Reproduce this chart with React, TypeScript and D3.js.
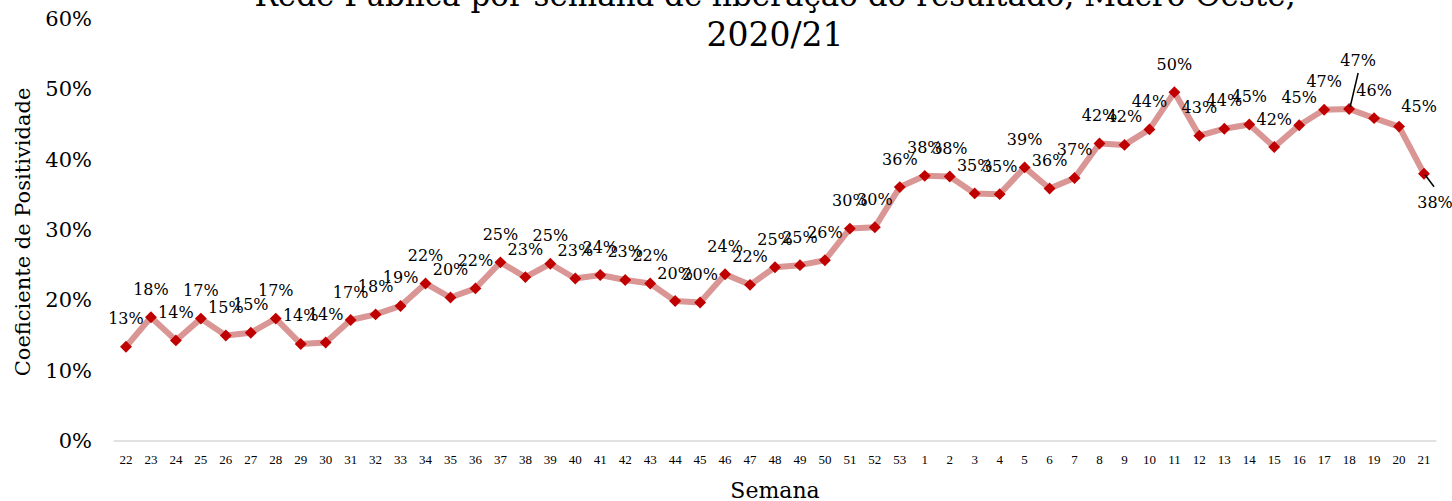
import React from "react";
import * as d3 from "d3";

// weeks 22..53 of 2020, then 1..21 of 2021
const weeks = [
  "22", "23", "24", "25", "26", "27", "28", "29", "30", "31", "32", "33", "34", "35", "36", "37",
  "38", "39", "40", "41", "42", "43", "44", "45", "46", "47", "48", "49", "50", "51", "52", "53",
  "1", "2", "3", "4", "5", "6", "7", "8", "9", "10", "11", "12", "13", "14", "15", "16", "17",
  "18", "19", "20", "21",
];

// positivity (fraction)
const positivity = [
  0.134, 0.176, 0.143, 0.174, 0.15, 0.154, 0.174, 0.138, 0.14, 0.172, 0.18, 0.192, 0.224, 0.204,
  0.217, 0.254, 0.233, 0.252, 0.231, 0.236, 0.229, 0.224, 0.199, 0.197, 0.237, 0.222, 0.247,
  0.25, 0.257, 0.302, 0.304, 0.361, 0.377, 0.376, 0.352, 0.351, 0.389, 0.359, 0.374, 0.423,
  0.421, 0.443, 0.496, 0.434, 0.444, 0.45, 0.418, 0.449, 0.471, 0.472, 0.459, 0.447, 0.38,
];

const yTicks = [0, 0.1, 0.2, 0.3, 0.4, 0.5, 0.6];

const titleLines = [
  "Rede Pública por semana de liberação do resultado, Macro Oeste,",
  "2020/21",
];

// labels moved by hand in the original (dx, dy from point; leader = draw line)
const labelOffsets: Record<number, { dx: number; dy: number; leader?: boolean }> = {
  49: { dx: 9, dy: -49, leader: true },
  51: { dx: 20, dy: -20 },
  52: { dx: 11, dy: 29, leader: true },
};

const W = 1452;
const H = 501;
const FONT = "'DejaVu Serif', serif";

export default function App() {
  const x = d3.scaleBand<string>().domain(weeks).range([113.5, 1436.5]);
  const y = d3.scaleLinear().domain([0, 0.6]).range([441, 19]);
  const cx = (i: number) => (x(weeks[i]) as number) + x.bandwidth() / 2;

  const line = d3
    .line<number>()
    .x((_, i) => cx(i))
    .y((d) => y(d));

  const diamond = d3.symbol().type(d3.symbolDiamond2).size(90)();

  return (
    <svg
      width={W}
      height={H}
      style={{ position: "absolute", left: 0, top: 0, background: "#fff" }}
      fontFamily={FONT}
    >
      {/* title */}
      <text x={775} y={6} textAnchor="middle" fontSize={31} fill="#000">
        {titleLines[0]}
      </text>
      <text x={775} y={46} textAnchor="middle" fontSize={33} fill="#000">
        {titleLines[1]}
      </text>

      {/* y ticks */}
      {yTicks.map((t) => (
        <text
          key={t}
          x={92}
          y={y(t)}
          textAnchor="end"
          dominantBaseline="central"
          fontSize={21}
          fill="#000"
        >
          {d3.format(".0%")(t)}
        </text>
      ))}

      {/* y title */}
      <text
        transform={`translate(23,${232}) rotate(-90)`}
        textAnchor="middle"
        dominantBaseline="central"
        fontSize={21}
        fill="#000"
      >
        Coeficiente de Positividade
      </text>

      {/* x axis */}
      <line x1={113.5} x2={1436.5} y1={441} y2={441} stroke="#d9d9d9" strokeWidth={1.5} />
      {weeks.map((w, i) => (
        <text
          key={i}
          x={cx(i)}
          y={459}
          textAnchor="middle"
          dominantBaseline="central"
          fontSize={13}
          fontFamily="'Liberation Serif', serif"
          fill="#000"
        >
          {w}
        </text>
      ))}
      <text x={775} y={490} textAnchor="middle" dominantBaseline="central" fontSize={22} fill="#000">
        Semana
      </text>

      {/* series */}
      <path d={line(positivity) || ""} fill="none" stroke="#d99694" strokeWidth={6} strokeLinejoin="round" />
      {positivity.map((v, i) => (
        <path key={i} d={diamond || ""} transform={`translate(${cx(i)},${y(v)})`} fill="#c00000" />
      ))}

      {/* data labels */}
      {positivity.map((v, i) => {
        const o = labelOffsets[i] || { dx: 0, dy: -28 };
        const px = cx(i);
        const py = y(v);
        return (
          <g key={i}>
            {o.leader && o.dy < 0 && (
              <line x1={px + 1} y1={py - 2} x2={px + o.dx} y2={py + o.dy + 13} stroke="#000" strokeWidth={1.5} />
            )}
            {o.leader && o.dy > 0 && (
              <line x1={px + 1} y1={py + 1} x2={px + o.dx - 1} y2={py + o.dy - 16} stroke="#000" strokeWidth={1.5} />
            )}
            <text
              x={px + o.dx}
              y={py + o.dy}
              textAnchor="middle"
              dominantBaseline="central"
              fontSize={16}
              fill="#000"
            >
              {d3.format(".0%")(v)}
            </text>
          </g>
        );
      })}
    </svg>
  );
}
